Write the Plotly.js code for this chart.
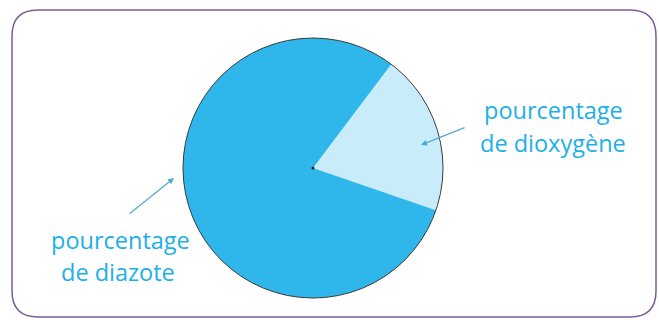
<!DOCTYPE html>
<html>
<head>
<meta charset="utf-8">
<script src="https://cdn.plot.ly/plotly-3.0.1.min.js"></script>
<style>html,body{margin:0;padding:0;background:#fff;}#chart{width:659px;height:320px;}</style>
</head>
<body>
<div id="chart"></div>
<script>
const categories = ["pourcentage<br>de dioxygène", "pourcentage<br>de diazote"];
const values = [20, 80];
const colors = ["#c9ecfa", "#2fb6ea"];

const W = 659, H = 320;
const px = x => x / W;
const py = y => 1 - y / H;

const trace = {
  type: "pie",
  labels: categories,
  values: values,
  sort: false,
  direction: "clockwise",
  rotation: 37,
  textinfo: "none",
  hoverinfo: "none",
  marker: {colors: colors, line: {width: 0}},
  domain: {x: [px(183), px(443)], y: [py(298), py(38)]},
  showlegend: false
};

const r = 26, L = 12, R = 656, T = 10, B = 317;
const rectPath = `M ${px(L + r)},${py(T)} L ${px(R - r)},${py(T)} Q ${px(R)},${py(T)} ${px(R)},${py(T + r)} ` +
  `L ${px(R)},${py(B - r)} Q ${px(R)},${py(B)} ${px(R - r)},${py(B)} L ${px(L + r)},${py(B)} ` +
  `Q ${px(L)},${py(B)} ${px(L)},${py(B - r)} L ${px(L)},${py(T + r)} Q ${px(L)},${py(T)} ${px(L + r)},${py(T)} Z`;

const textColor = "#1cb0e8";
const arrowColor = "#4fa9d2";

// label line positions (pixel centres) for each category
const labelPos = [
  [[553, 110], [553, 143]],
  [[120, 240], [118, 272]]
];

const textAnns = [];
categories.forEach((c, i) => {
  c.split("<br>").forEach((line, j) => {
    textAnns.push({
      xref: "paper", yref: "paper",
      x: px(labelPos[i][j][0]), y: py(labelPos[i][j][1]),
      xanchor: "center", yanchor: "middle",
      text: line, showarrow: false,
      font: {size: 23.5, color: textColor}
    });
  });
});

const layout = {
  width: W, height: H,
  margin: {l: 0, r: 0, t: 0, b: 0},
  paper_bgcolor: "#ffffff",
  showlegend: false,
  font: {family: "'Open Sans', 'Noto Sans', sans-serif"},
  shapes: [
    {type: "path", xref: "paper", yref: "paper", path: rectPath,
     line: {color: "#7d5c9c", width: 1.5}},
    {type: "circle", xref: "paper", yref: "paper",
     x0: px(183), x1: px(443), y0: py(298), y1: py(38),
     line: {color: "#3a3a3a", width: 1}},
    {type: "circle", xref: "paper", yref: "paper",
     x0: px(311.5), x1: px(314.5), y0: py(169.5), y1: py(166.5),
     fillcolor: "#222", line: {width: 0}}
  ],
  annotations: textAnns.concat([
    {xref: "paper", yref: "paper", x: px(421), y: py(145), text: "", showarrow: true,
     ax: 45, ay: -18, arrowhead: 2, arrowsize: 1, arrowwidth: 1.2, arrowcolor: arrowColor},
    {xref: "paper", yref: "paper", x: px(174), y: py(178), text: "", showarrow: true,
     ax: -46, ay: 37, arrowhead: 2, arrowsize: 1, arrowwidth: 1.2, arrowcolor: arrowColor}
  ])
};

Plotly.newPlot("chart", [trace], layout, {displayModeBar: false, staticPlot: true});
</script>
</body>
</html>
